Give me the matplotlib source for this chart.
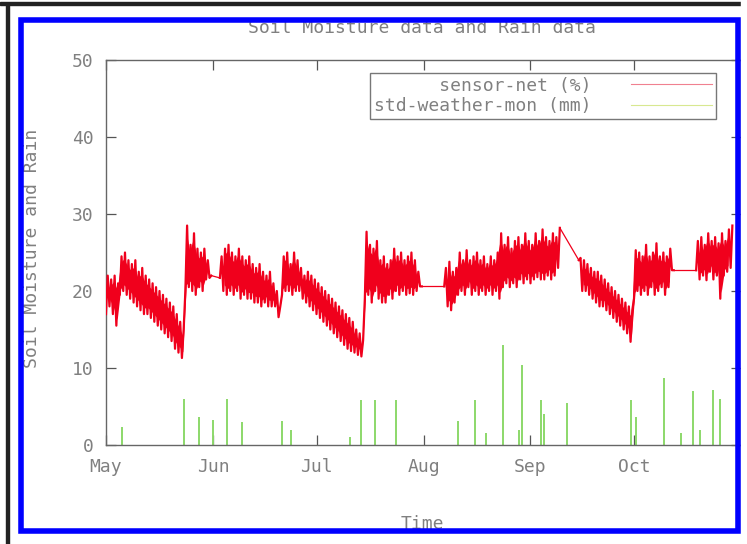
import numpy as np
import matplotlib
matplotlib.use("Agg")
import matplotlib.pyplot as plt
from matplotlib.patches import Rectangle
from matplotlib.lines import Line2D

# days counted from May 1
month_ticks = [0, 31, 61, 92, 123, 153]
month_labels = ["May", "Jun", "Jul", "Aug", "Sep", "Oct"]

# soil moisture, daily high / low (gaps = missing days)
moist_day = (list(range(0, 23)) + list(range(23, 31)) + list(range(33, 51))
             + list(range(51, 75)) + list(range(75, 92)) + list(range(98, 132))
             + list(range(137, 153)) + list(range(153, 165)) + list(range(171, 182)))
moist_hi = [22, 21.5, 22, 21, 24.5, 25, 24, 23.5, 24, 22.5, 23, 22, 21.5, 21, 20.5, 20, 19.5, 19, 18.5, 18, 17, 16, 15,
            28.5, 26, 27.5, 25.5, 25, 25.5, 24, 22,
            24.5, 25.5, 26, 25, 24.5, 25.5, 24.5, 24, 24.5, 23.5, 23, 23.5, 22.5, 22, 22.5, 21, 20, 18,
            24.5, 25, 23.5, 25, 24, 23, 22, 22.5, 22, 21.5, 21, 20.5, 20, 19.5, 19, 18.5, 18, 17.5, 17, 16.5, 16, 15,
            14.5, 13.6,
            27.7, 26, 25.5, 26.5, 24, 24.5, 23.5, 24, 25.5, 24.5, 25, 24, 24.5, 25, 24, 22.5, 20.6,
            23, 23.8, 22.5, 23, 25, 24, 25.3, 24, 24.5, 25, 24, 24.5, 23.5, 24.5, 24, 25, 27.5, 26, 27, 25.5, 26.5,
            27, 26, 27.5, 26.5, 26, 27.5, 26.5, 28, 27, 26.5, 27.5, 27, 28.2,
            24.3, 24, 23.5, 23, 22.5, 22.5, 22, 21.5, 21, 20.5, 20, 19.5, 19, 18.5, 18, 17.5,
            25.3, 25, 24.5, 26, 24.5, 25, 26.2, 24.5, 25, 24.5, 25.5, 22.7,
            26.5, 27, 26, 27.5, 26.5, 27, 26.2, 27.5, 26.5, 28, 28.5]
moist_lo = [17, 18, 17, 15.5, 19.5, 20, 19.5, 19, 18.5, 18, 17.5, 17, 17, 16.5, 16, 15.5, 15, 14.5, 14, 13.5, 12.5, 12,
            11.3,
            20, 20.5, 20, 19.5, 20.5, 20, 21.5, 21.7,
            21.7, 20, 19.5, 20, 19.5, 20, 19, 19.5, 19, 19, 18.5, 18.5, 18, 18.5, 18, 18, 18, 16.6,
            19.5, 20, 20, 19.5, 20, 20, 19, 18.5, 18, 17.5, 17, 16.5, 16, 15.5, 15, 14.5, 14, 13.5, 13, 12.5, 12.2,
            12, 11.7, 11.5,
            19, 19.5, 18.5, 20, 19, 18.5, 18.5, 19.5, 19, 20, 19.5, 20, 19.5, 19.7, 19.5, 20, 20.6,
            20.6, 18, 17.5, 18.5, 19.5, 20, 19.5, 20.5, 19.5, 20, 19.5, 20, 19.5, 20, 19.5, 20, 19, 20.5, 21, 20.5,
            21, 20.5, 21.5, 21, 21.5, 21, 21.5, 21.8, 21.5, 21.5, 22, 21.5, 22, 23,
            24, 20, 20, 19.5, 19, 18.5, 18, 18, 17.5, 17, 16.5, 16, 15.5, 15, 14.5, 13.4,
            19, 20, 19.5, 20, 19.5, 20.5, 19.5, 20, 20.5, 19.5, 20.5, 22.7,
            22.7, 21.5, 22, 21.4, 22.5, 21.5, 22, 19, 22, 22.5, 23]

# rain (mm)
rain_day = [4.6, 22.7, 27, 30.9, 35, 39.5, 50.9, 53.5, 70.7, 74, 78, 83.9, 102, 107, 110, 115,
            119.6, 120.5, 126, 127, 133.6, 152, 153.5, 161.7, 166.6, 170, 172, 175.8, 178]
rain_mm = [2.3, 6.0, 3.7, 3.2, 6.0, 3.0, 3.1, 1.9, 1.0, 5.8, 5.8, 5.8, 3.1, 5.8, 1.5, 13,
           2.0, 10.4, 5.8, 4.0, 5.5, 5.8, 3.6, 8.7, 1.5, 7.0, 2.0, 7.2, 6.0]

W, H = 747, 544
mono = "DejaVu Sans Mono"
grey = "#808080"
red = "#f0001c"
fs = 13

fig = plt.figure(figsize=(W / 100, H / 100), dpi=100)
ax = fig.add_axes([106 / W, 1 - 445 / H, (741 - 106) / W, (445 - 60) / H])

days = np.array(moist_day)
lo_a = np.array(moist_lo)
hi_a = np.array(moist_hi)
breaks = np.where(np.diff(days) > 1)[0] + 1
segments = np.split(np.arange(len(days)), breaks)

prev_end = None
for idx in segments:
    # zigzag between daily low and high
    xs = np.ravel(np.column_stack([days[idx], days[idx] + 0.5]))
    ys = np.ravel(np.column_stack([lo_a[idx], hi_a[idx]]))
    ax.plot(xs, ys, color=red, lw=1.6, zorder=3)
    if prev_end is not None:
        # thin line across a gap in the record
        ax.plot([prev_end[0], xs[0]], [prev_end[1], ys[0]], color=red, lw=0.9, zorder=3)
    prev_end = (xs[-1], ys[-1])
    if len(idx) >= 3:
        inner = idx[1:-1]
        ax.fill_between(days[inner] + 0.25, lo_a[inner] + 0.8, hi_a[inner] - 0.8,
                        color=red, lw=0, zorder=3)

ax.vlines(rain_day, 0, rain_mm, color="#8cd86a", lw=1.4, zorder=2)

ax.set_xlim(0, 184)
ax.set_ylim(0, 50)
ax.set_xticks(month_ticks)
ax.set_xticklabels(month_labels)
ax.set_yticks(range(0, 51, 10))
ax.tick_params(direction="in", length=7, width=0.9, color="#555555", top=True, right=True,
               labelsize=fs, labelcolor=grey, pad=9)
for lab in ax.get_xticklabels() + ax.get_yticklabels():
    lab.set_family(mono)
for s in ax.spines.values():
    s.set_color("#666666")
    s.set_linewidth(1.0)

handles = [Line2D([], [], color="#f08090", lw=0.8), Line2D([], [], color="#d8e890", lw=0.8)]
leg = ax.legend(handles, ["      sensor-net (%)", "std-weather-mon (mm)"],
                loc="upper right", bbox_to_anchor=(725 / W, 1 - 64 / H), bbox_transform=fig.transFigure,
                markerfirst=False, fancybox=False, framealpha=1, edgecolor="#777777",
                handlelength=4.5, handletextpad=2.2, borderpad=0.2, labelspacing=0.15,
                prop={"family": mono, "size": fs})
leg.get_frame().set_linewidth(1.0)
for t in leg.get_texts():
    t.set_color(grey)

fig.text(422 / W, 1 - 28 / H, "Soil Moisture data and Rain data", ha="center", va="center",
         family=mono, fontsize=fs, color=grey)
fig.text(32 / W, 1 - 248 / H, "Soil Moisture and Rain", ha="center", va="center", rotation=90,
         family=mono, fontsize=fs, color=grey)
fig.text(422 / W, 1 - 524 / H, "Time", ha="center", va="center", family=mono, fontsize=fs, color=grey)

# outer black edge and blue frame
fig.add_artist(Rectangle((0, 1 - 5 / H), 1, 2.5 / H, transform=fig.transFigure,
                         color="#222222", zorder=10))
fig.add_artist(Rectangle((6 / W, 0), 2.5 / W, 1 - 4 / H, transform=fig.transFigure,
                         color="#222222", zorder=10))
fig.add_artist(Rectangle((20.5 / W, 1 - 531 / H), (738 - 20.5) / W, (531 - 19.5) / H,
                         transform=fig.transFigure, fill=False, edgecolor="#0000ff",
                         lw=4.0, zorder=11))
fig.add_artist(Rectangle((740.5 / W, 0), 1 - 740.5 / W, 1, transform=fig.transFigure,
                         color="white", zorder=10.5))

fig.savefig("out.png", dpi=100)
